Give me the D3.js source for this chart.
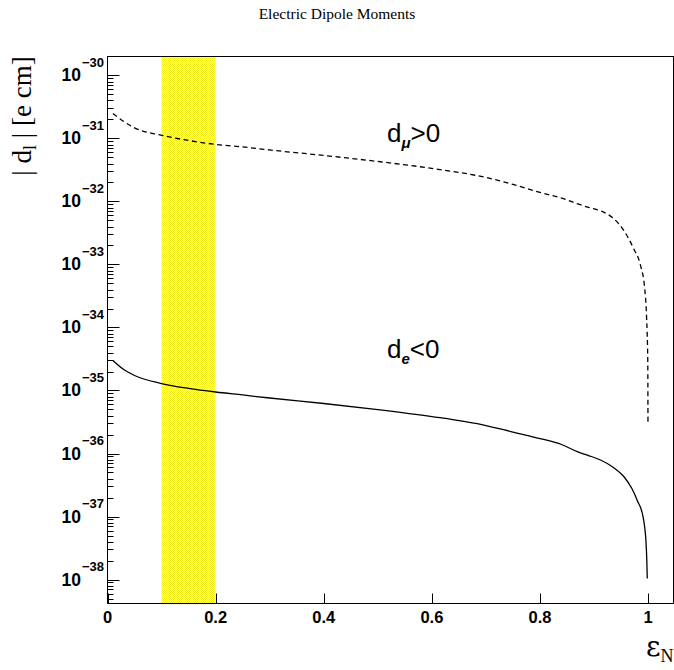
<!DOCTYPE html>
<html><head><meta charset="utf-8">
<script src="https://cdn.jsdelivr.net/npm/d3@7"></script>
<style>body{margin:0;background:#fff;} svg{display:block}</style>
</head><body><svg id="c" width="674" height="670"></svg>
<script>
// ---- data ----
const title = "Electric Dipole Moments";
const epsMu = [0.01,0.03,0.05,0.1,0.15,0.2,0.25,0.3,0.4,0.5,0.6,0.7,0.75,0.8,0.85,0.87,0.89,0.915,0.936,0.955,0.973,0.986,0.9935,0.9972,0.9994,0.9998];
const dMu   = [2.49e-31,1.86e-31,1.47e-31,1.12e-31,9.29e-32,8.04e-32,7.33e-32,6.56e-32,5.37e-32,4.31e-32,3.34e-32,2.40e-32,1.86e-32,1.39e-32,1.06e-32,9.12e-33,8.04e-33,6.94e-33,5.37e-33,3.47e-33,1.80e-33,9.64e-34,4.31e-34,1.44e-34,2.99e-35,2.88e-36];
const epsE  = [0.01,0.03,0.05,0.1,0.15,0.2,0.25,0.3,0.4,0.5,0.6,0.7,0.75,0.8,0.84,0.87,0.89,0.912,0.936,0.955,0.97,0.98,0.991,0.994,0.996,0.9975,0.9985];
const dE    = [2.99e-35,2.15e-35,1.73e-35,1.29e-35,1.08e-35,9.46e-36,8.49e-36,7.60e-36,6.22e-36,4.99e-36,3.86e-36,2.78e-36,2.19e-36,1.73e-36,1.39e-36,1.06e-36,9.29e-37,7.89e-37,6.00e-37,4.32e-37,2.78e-37,1.80e-37,9.64e-38,6.45e-38,4.16e-38,2.15e-38,1.04e-38];
const bandRange = [0.1, 0.2];
const xTicks = [0,0.2,0.4,0.6,0.8,1];
const xTickLabels = ["0","0.2","0.4","0.6","0.8","1"];
const yDecades = [-30,-31,-32,-33,-34,-35,-36,-37,-38];
const yTickLabels = ["\u221230","\u221231","\u221232","\u221233","\u221234","\u221235","\u221236","\u221237","\u221238"];

// ---- layout ----
const svg = d3.select("#c");
const L = 107.5, R = 673.5, T = 56.5, B = 603.5;
const x = d3.scaleLinear().domain([0, 1.047]).range([L, R]);
const y = d3.scaleLog().domain([Math.pow(10,-38.38), Math.pow(10,-29.70)]).range([B, T]);

// pattern for yellow band
const defs = svg.append("defs");
const pat = defs.append("pattern").attr("id","yel").attr("width",2).attr("height",2).attr("patternUnits","userSpaceOnUse");
pat.append("rect").attr("width",2).attr("height",2).attr("fill","#f6ee1c");
pat.append("rect").attr("x",1).attr("y",0).attr("width",1).attr("height",1).attr("fill","#fbf8b8");
pat.append("rect").attr("x",0).attr("y",1).attr("width",1).attr("height",1).attr("fill","#fbf8b8");

svg.append("rect").attr("x", x(bandRange[0])).attr("y", T)
  .attr("width", x(bandRange[1]) - x(bandRange[0])).attr("height", B - T)
  .attr("fill", "url(#yel)");

// frame
svg.append("rect").attr("x", L).attr("y", T).attr("width", R - L).attr("height", B - T)
  .attr("fill","none").attr("stroke","#000").attr("stroke-width",1);

// x axis ticks
const gx = svg.append("g");
gx.selectAll("line").data(xTicks).enter().append("line")
  .attr("x1", d => Math.round(x(d)) + 0.5).attr("x2", d => Math.round(x(d)) + 0.5)
  .attr("y1", B).attr("y2", B - 10).attr("stroke","#000");
gx.selectAll("text").data(xTicks).enter().append("text")
  .attr("x", d => x(d)).attr("y", 623).attr("text-anchor","middle")
  .attr("font-family","Liberation Sans, Arial, sans-serif").attr("font-weight","bold")
  .attr("font-size",16.5).text((d,i) => xTickLabels[i]);

// y axis ticks (log)
const [ymin, ymax] = y.domain();
const minor = [];
for (let e = -39; e <= -29; e++) for (let k = 1; k <= 9; k++) {
  const v = k * Math.pow(10, e);
  if (v >= ymin && v <= ymax) minor.push({v, major: k === 1});
}
const gy = svg.append("g");
gy.selectAll("line").data(minor).enter().append("line")
  .attr("x1", L).attr("x2", d => L + (d.major ? 12 : 6))
  .attr("y1", d => Math.round(y(d.v)) + 0.5).attr("y2", d => Math.round(y(d.v)) + 0.5)
  .attr("stroke","#000");
const yl = gy.selectAll("text.yl").data(yDecades).enter().append("text").attr("class","yl")
  .attr("x", 104).attr("y", d => y(Math.pow(10,d)) + 6).attr("text-anchor","end")
  .attr("font-family","Liberation Sans, Arial, sans-serif").attr("font-weight","bold");
yl.append("tspan").attr("font-size",17.5).text("10");
yl.append("tspan").attr("font-size",13).attr("dy",-14.5).attr("dx",1).text((d,i) => yTickLabels[i]);

// curves
const line = d3.line().x(d => x(d[0])).y(d => y(d[1])).curve(d3.curveMonotoneX);
svg.append("path").datum(epsMu.map((e,i) => [e, dMu[i]]))
  .attr("d", line).attr("fill","none").attr("stroke","#000").attr("stroke-width",1.3)
  .attr("stroke-dasharray","5,3.5");
svg.append("path").datum(epsE.map((e,i) => [e, dE[i]]))
  .attr("d", line).attr("fill","none").attr("stroke","#000").attr("stroke-width",1.3);

// title
svg.append("text").attr("x",337).attr("y",19).attr("text-anchor","middle")
  .attr("font-family","Liberation Serif, Times New Roman, serif").attr("font-size",15.5)
  .text(title);

// y axis title
const yt = svg.append("text").attr("transform","translate(31,116) rotate(-90)")
  .attr("text-anchor","middle").attr("font-family","Liberation Serif, Times New Roman, serif")
  .attr("font-size",27);
yt.append("tspan").text("| d");
yt.append("tspan").attr("font-size",18).attr("dy",5).text("l");
yt.append("tspan").attr("dy",-5).text(" | [e cm]");

// x axis title
const xt = svg.append("text").attr("x",646).attr("y",656)
  .attr("font-family","DejaVu Serif, serif");
xt.append("tspan").attr("font-size",28).text("\u03b5");
xt.append("tspan").attr("font-family","Liberation Serif, serif").attr("font-size",18).attr("dy",6).text("N");

// curve labels
function lab(xp, yp, sub, rest) {
  const t = svg.append("text").attr("x",xp).attr("y",yp)
    .attr("font-family","Liberation Sans, Arial, sans-serif").attr("font-size",26);
  t.append("tspan").text("d");
  t.append("tspan").attr("font-size",15).attr("font-style","italic").attr("font-weight","bold").attr("dy",6).text(sub);
  t.append("tspan").attr("dy",-6).text(rest);
}
lab(387, 142, "\u03bc", ">0");
lab(387, 358, "e", "<0");
</script></body></html>
